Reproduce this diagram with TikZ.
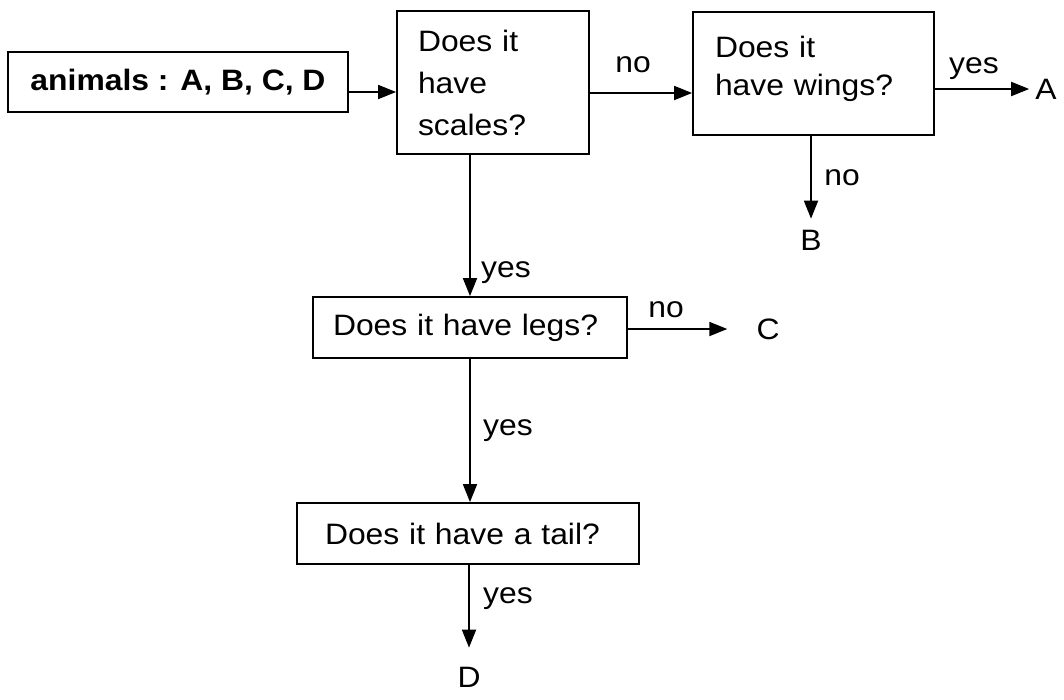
\documentclass[tikz,border=0pt]{standalone}
\usepackage{fontspec}
\setmainfont{Liberation Sans}[FakeStretch=1.08]
\usetikzlibrary{arrows.meta,calc}
\begin{document}
\begin{tikzpicture}[x=1pt,y=-1pt,
  every node/.style={font=\fontsize{29.5}{40}\selectfont},
  box/.style={draw,line width=1.8pt,inner sep=0pt},
  arr/.style={line width=1.8pt,-{Triangle[length=18pt,width=14pt]}},
  lbl/.style={anchor=base,inner sep=0pt},
  letter/.style={inner sep=6pt}]
\useasboundingbox (0,0) rectangle (1064,699);
\node[box,minimum width=340pt,minimum height=60pt,font=\fontsize{29.5}{40}\selectfont\bfseries] (animals) at (178,82) {animals : A, B, C, D};
\node[box,minimum width=192pt,minimum height=143pt,text width=150pt,align=left,inner xsep=21pt,font=\fontsize{29.5}{42}\selectfont] (scales) at (493,82.5) {\rule{0pt}{16pt}Does it\\have\\scales?};
\node[box,minimum width=241pt,minimum height=123pt,text width=197pt,align=left,inner xsep=22pt] (wings) at (813.5,73.5) {Does it\\[-2pt]have wings?\rule[-16pt]{0pt}{0pt}};
\node[box,minimum width=314pt,minimum height=61pt,text width=274pt,align=left,inner xsep=20pt] (legs) at (470,327.5) {Does it have legs?};
\node[box,minimum width=342pt,minimum height=61pt,text width=286pt,align=left,inner xsep=28pt] (tail) at (468,533.5) {Does it have a tail?};
\node[letter] (A) at (1046,89) {A};
\node[letter] (B) at (811,240) {B};
\node[letter] (C) at (768,329) {C};
\node[letter] (D) at (469,677) {D};
\draw[arr] ([yshift=-10pt]animals.east) -- ([yshift=-10pt]animals.east -| scales.west);
\draw[arr] ([yshift=-10.5pt]scales.east) -- ([yshift=-10.5pt]scales.east -| wings.west);
\draw[arr] (wings.east |- A.west) -- (A.west);
\draw[arr,shorten >=5pt] (wings.south -| B.north) -- (B.north);
\draw[arr] (scales.south -| legs.north) -- (legs.north);
\draw[arr,shorten >=23pt] (legs.east |- C.west) -- (C.west);
\draw[arr] (legs.south) -- (legs.south |- tail.north);
\draw[arr,shorten >=13pt] (tail.south -| D.north) -- (D.north);
\node[lbl] (l1) at (633,72) {no};
\node[lbl] (l2) at (974,73) {yes};
\node[lbl] (l3) at (842,185) {no};
\node[lbl] (l4) at (506,277) {yes};
\node[lbl] (l5) at (666,317) {no};
\node[lbl] (l6) at (508,435) {yes};
\node[lbl] (l7) at (508,603) {yes};
\end{tikzpicture}
\end{document}
